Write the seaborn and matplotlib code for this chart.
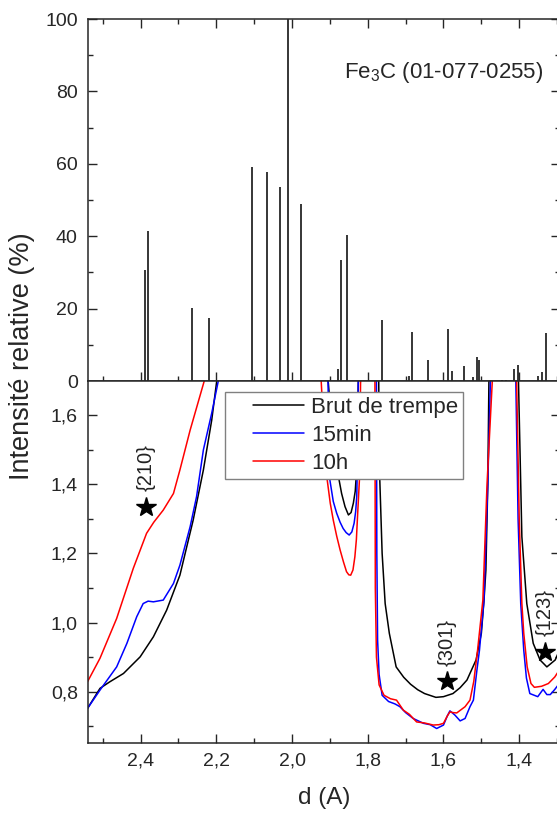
import matplotlib
matplotlib.use('Agg')
from matplotlib import pyplot as plt
from matplotlib.lines import Line2D
from matplotlib.legend_handler import HandlerLine2D
from matplotlib.ticker import MultipleLocator, FuncFormatter
import numpy as np
import pandas as pd
import seaborn as sns

# Fe3C reference pattern (01-077-0255): d (A) and relative intensity (%)
ref_d = [2.388, 2.380, 2.263, 2.218, 2.106, 2.067, 2.031, 2.011, 1.977,
         1.879, 1.871, 1.854, 1.762, 1.692, 1.684, 1.640, 1.588, 1.578,
         1.546, 1.521, 1.511, 1.507, 1.446, 1.435, 1.414, 1.404, 1.351,
         1.341, 1.328]
ref_I = [30.8, 41.4, 20.2, 17.4, 59.2, 57.8, 53.7, 100, 49.0,
         3.2, 33.4, 40.2, 16.8, 1.5, 13.6, 5.8, 14.3, 2.7,
         4.1, 1.0, 6.5, 5.9, 0.3, 0.3, 3.2, 4.4, 1.4,
         2.6, 13.3]

# diffractograms (values above 1.7 are off scale)
brut_d = [2.540, 2.507, 2.481, 2.445, 2.401, 2.366, 2.331, 2.296, 2.261,
          2.234, 2.212, 2.199, 2.190, 2.050, 1.915, 1.904, 1.895, 1.886,
          1.877, 1.869, 1.860, 1.851, 1.844, 1.838, 1.833, 1.830, 1.827,
          1.825, 1.822, 1.800, 1.774, 1.771, 1.769, 1.762, 1.754, 1.743,
          1.725, 1.705, 1.687, 1.668, 1.650, 1.620, 1.600, 1.575, 1.556,
          1.538, 1.514, 1.500, 1.493, 1.488, 1.483, 1.480, 1.477, 1.440,
          1.405, 1.402, 1.393, 1.380, 1.363, 1.345, 1.327, 1.305, 1.290]
brut_I = [0.752, 0.810, 0.829, 0.853, 0.901, 0.959, 1.036, 1.137, 1.296,
          1.441, 1.585, 1.696, 1.750, 3.000, 1.750, 1.692, 1.570, 1.489,
          1.420, 1.373, 1.335, 1.311, 1.318, 1.345, 1.380, 1.430, 1.556,
          1.692, 1.750, 3.000, 1.750, 1.700, 1.441, 1.200, 1.055, 0.969,
          0.872, 0.842, 0.822, 0.806, 0.795, 0.784, 0.786, 0.795, 0.812,
          0.834, 0.892, 0.969, 1.065, 1.152, 1.400, 1.700, 1.750, 3.000,
          1.750, 1.700, 1.248, 1.055, 0.940, 0.892, 0.872, 0.892, 0.930]

min15_d = [2.540, 2.507, 2.463, 2.436, 2.410, 2.393, 2.380, 2.366, 2.340,
           2.313, 2.296, 2.269, 2.252, 2.234, 2.212, 2.195, 2.180, 2.050,
           1.915, 1.905, 1.900, 1.891, 1.882, 1.873, 1.865, 1.857, 1.849,
           1.842, 1.836, 1.832, 1.829, 1.826, 1.825, 1.822, 1.800, 1.780,
           1.777, 1.776, 1.774, 1.770, 1.762, 1.745, 1.728, 1.715, 1.700,
           1.680, 1.653, 1.635, 1.618, 1.600, 1.590, 1.583, 1.570, 1.556,
           1.543, 1.530, 1.521, 1.512, 1.505, 1.493, 1.483, 1.476, 1.473,
           1.440, 1.412, 1.409, 1.403, 1.396, 1.388, 1.381, 1.372, 1.351,
           1.337, 1.327, 1.318, 1.306, 1.290]
min15_I = [0.752, 0.805, 0.872, 0.940, 1.017, 1.055, 1.062, 1.060, 1.065,
           1.113, 1.166, 1.277, 1.364, 1.499, 1.605, 1.696, 1.780, 3.000,
           1.780, 1.700, 1.412, 1.350, 1.316, 1.290, 1.272, 1.260, 1.253,
           1.262, 1.287, 1.320, 1.364, 1.550, 1.692, 1.780, 3.000, 1.780,
           1.700, 1.200, 0.950, 0.850, 0.790, 0.772, 0.765, 0.757, 0.740,
           0.723, 0.709, 0.705, 0.694, 0.704, 0.730, 0.745, 0.733, 0.716,
           0.723, 0.757, 0.776, 0.860, 0.920, 1.065, 1.400, 1.700, 1.780,
           3.000, 1.780, 1.700, 1.300, 1.055, 0.920, 0.840, 0.795, 0.786,
           0.807, 0.792, 0.792, 0.807, 0.830]

h10_d = [2.540, 2.507, 2.463, 2.419, 2.384, 2.365, 2.340, 2.313, 2.296,
         2.269, 2.232, 2.220, 2.050, 1.930, 1.923, 1.915, 1.907, 1.899,
         1.891, 1.882, 1.873, 1.864, 1.856, 1.850, 1.845, 1.839, 1.834,
         1.830, 1.827, 1.822, 1.819, 1.815, 1.800, 1.785, 1.781, 1.780,
         1.777, 1.770, 1.757, 1.740, 1.724, 1.706, 1.690, 1.671, 1.650,
         1.627, 1.612, 1.600, 1.590, 1.583, 1.575, 1.565, 1.543, 1.530,
         1.520, 1.510, 1.496, 1.485, 1.471, 1.468, 1.440, 1.410, 1.407,
         1.400, 1.393, 1.388, 1.379, 1.369, 1.360, 1.341, 1.323, 1.306,
         1.290]
h10_I = [0.829, 0.897, 1.012, 1.157, 1.258, 1.290, 1.325, 1.373, 1.441,
         1.556, 1.697, 1.740, 3.000, 1.750, 1.700, 1.530, 1.412, 1.345,
         1.296, 1.250, 1.210, 1.175, 1.147, 1.138, 1.137, 1.152, 1.190,
         1.240, 1.306, 1.412, 1.692, 1.750, 3.000, 1.750, 1.700, 1.100,
         0.900, 0.820, 0.790, 0.780, 0.776, 0.747, 0.735, 0.713, 0.710,
         0.704, 0.705, 0.709, 0.730, 0.742, 0.740, 0.739, 0.757, 0.776,
         0.830, 0.920, 1.065, 1.400, 1.700, 1.750, 3.000, 1.750, 1.700,
         1.300, 1.055, 0.969, 0.872, 0.824, 0.813, 0.816, 0.824, 0.843,
         0.870]

series_names = ['Brut de trempe', '15min', '10h']
series_colors = ['#000000', '#0000ff', '#ff0000']

stars_d = [2.385, 1.591, 1.332]
stars_I = [1.335, 0.830, 0.916]
stars_lab = ['{210}', '{301}', '{123}']

df = pd.concat([
    pd.DataFrame({'d': brut_d, 'I': brut_I, 'serie': series_names[0]}),
    pd.DataFrame({'d': min15_d, 'I': min15_I, 'serie': series_names[1]}),
    pd.DataFrame({'d': h10_d, 'I': h10_I, 'serie': series_names[2]}),
], ignore_index=True)

sns.set_theme(style='ticks')
plt.rcParams['font.family'] = ['Liberation Sans', 'DejaVu Sans']
plt.rcParams['mathtext.fontset'] = 'custom'
plt.rcParams['mathtext.rm'] = 'Liberation Sans'

W, H = 557, 814
left_px, right_px = 87.5, 560
top_px, mid_px, bot_px = 19, 381, 742.7
fig = plt.figure(figsize=(W / 100, H / 100), dpi=100)
ax_top = fig.add_axes([left_px / W, 1 - mid_px / H, (right_px - left_px) / W, (mid_px - top_px) / H])
ax_bot = fig.add_axes([left_px / W, 1 - bot_px / H, (right_px - left_px) / W, (bot_px - mid_px) / H])

xl = (2.0 + (292 - left_px) / 378.7, 2.0 - (right_px - 292) / 378.7)
comma = FuncFormatter(lambda v, p: f'{v:.1f}'.replace('.', ','))

# top: reference sticks
ax_top.vlines(ref_d, 0, ref_I, color='black', lw=1.1)
ax_top.set_xlim(xl)
ax_top.set_ylim(0, 100)
ax_top.yaxis.set_major_locator(MultipleLocator(20))
ax_top.yaxis.set_minor_locator(MultipleLocator(10))
ax_top.xaxis.set_major_locator(MultipleLocator(0.2))
ax_top.xaxis.set_minor_locator(MultipleLocator(0.1))
ax_top.tick_params(which='both', direction='in', top=True, right=True, labelbottom=False, width=1.0)
ax_top.text(1.337, 85.2, r'Fe$_\mathregular{3}$C (01-077-0255)', ha='right', va='center', fontsize=16)

# bottom: diffractograms
sns.lineplot(data=df, x='d', y='I', hue='serie', hue_order=series_names, palette=series_colors,
             estimator=None, sort=False, lw=1.1, legend=False, ax=ax_bot)
ax_bot.set_xlim(xl)
ax_bot.set_ylim(0.653, 1.698)
ax_bot.xaxis.set_major_locator(MultipleLocator(0.2))
ax_bot.xaxis.set_minor_locator(MultipleLocator(0.1))
ax_bot.yaxis.set_major_locator(MultipleLocator(0.2))
ax_bot.yaxis.set_minor_locator(MultipleLocator(0.1))
ax_bot.xaxis.set_major_formatter(comma)
ax_bot.yaxis.set_major_formatter(comma)
ax_bot.tick_params(which='both', direction='in', top=False, right=True, width=1.0)
ax_bot.set_xlabel('d (A)', fontsize=17.5, labelpad=13)
ax_bot.set_ylabel('')

leg = ax_bot.legend(ax_bot.lines[:3], series_names, loc='upper left',
                    bbox_to_anchor=(225 / W, 1 - 392 / H), bbox_transform=fig.transFigure,
                    borderaxespad=0, fontsize=16, frameon=True, fancybox=False,
                    edgecolor='#808080', framealpha=1, handlelength=3.34, handletextpad=0.32,
                    labelspacing=0.31, borderpad=0.22,
                    handler_map={Line2D: HandlerLine2D(xpad=1.04)})
leg.get_frame().set_linewidth(1.0)

ax_bot.plot(stars_d, stars_I, ls='none', marker='*', ms=15, color='black')
for d, i, lab in zip(stars_d, stars_I, stars_lab):
    ax_bot.annotate(lab, (d, i), xytext=(0, 11), textcoords='offset points',
                    rotation=90, ha='center', va='bottom', fontsize=14.5, color='#222222')

for ax in (ax_top, ax_bot):
    for s in ax.spines.values():
        s.set_linewidth(1.1)
    ax.tick_params(which='major', length=6.5, labelsize=14, pad=7)
    ax.tick_params(which='minor', length=3.6)

fig.text(22 / W, 1 - 356.5 / H, 'Intensité relative (%)', rotation=90, ha='center', va='center', fontsize=19.5)

fig.savefig('out.png', dpi=100)
